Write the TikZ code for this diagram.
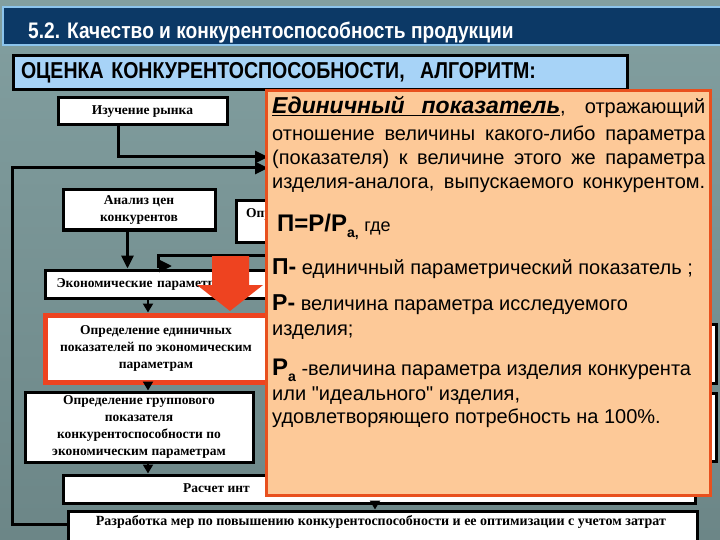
\documentclass[tikz,border=0pt]{standalone}
\usepackage{fontspec}
\setmainfont{Liberation Serif}
\setsansfont{Liberation Sans}
\newfontfamily\narrowsans[FakeStretch=0.85]{Liberation Sans}
\newfontfamily\notefont{Liberation Sans}
\usetikzlibrary{arrows.meta,calc}
\definecolor{titlenavy}{HTML}{0C3966}
\definecolor{titleedge}{HTML}{8CC4EC}
\definecolor{headfill}{HTML}{A7D3F7}
\definecolor{notefill}{HTML}{FDC998}
\definecolor{noteedge}{HTML}{E8501E}
\definecolor{redline}{HTML}{EE4320}
\definecolor{bgtop}{HTML}{829FA0}
\definecolor{bgmid}{HTML}{C4E3E5}
\definecolor{bgbot}{HTML}{6C8687}
\tikzset{
  stepbox/.style={draw=black, line width=3pt, fill=white, anchor=north west,
    align=center, inner sep=2pt, font=\bfseries\fontsize{13.5}{17}\selectfont},
  redstep/.style={stepbox, draw=redline, line width=5pt},
  headbox/.style={draw=black, line width=3pt, fill=headfill, anchor=north west,
    text width=598pt, inner xsep=8pt, minimum height=34pt, align=left,
    font=\narrowsans\bfseries\fontsize{23}{26}\selectfont},
  notebox/.style={draw=noteedge, line width=3pt, fill=notefill, anchor=north west},
  notetext/.style={anchor=base west, inner sep=0pt, font=\notefont\fontsize{20}{24}\selectfont},
  flow/.style={line width=3pt, -{Triangle[length=13pt,width=12pt]}},
  smallflow/.style={line width=2pt, -{Triangle[length=9pt,width=10pt]}}
}
\begin{document}
\begin{tikzpicture}[x=1pt,y=-1pt]
  \useasboundingbox (0,0) rectangle (720,540);
  % background
  \shade[top color=bgtop, middle color=bgmid, bottom color=bgbot] (0,0) rectangle (720,540);

  % title bar
  \draw[draw=titleedge, fill=titlenavy, line width=2pt] (3,7) rectangle (724,45);
  \node[anchor=base west, inner sep=0pt, text=white, font=\narrowsans\bfseries\fontsize{22.5}{26}\selectfont]
    (title) at (28,39) {5.2. Качество и конкурентоспособность продукции};

  % header
  \node[headbox] (head) at (11.5,54.5) {ОЦЕНКА КОНКУРЕНТОСПОСОБНОСТИ,\ \ АЛГОРИТМ:};

  % steps
  \node[stepbox, minimum width=169pt, minimum height=27pt] (market) at (56.5,96.5) {Изучение рынка};
  \node[stepbox, minimum width=152pt, minimum height=40pt] (prices) at (61.5,188.5) {Анализ цен\\конкурентов};
  \node[stepbox, minimum width=120pt, minimum height=41pt, align=left, text width=100pt, inner xsep=4pt]
    (techdef) at (234.5,199.5) {Опр\\\mbox{}};
  \node[stepbox, minimum height=28pt, align=left, text width=227pt, inner xsep=11.5pt]
    (econ) at (43.5,268.5) {Экономические параметры};
  \node[redstep, minimum width=222pt, minimum height=67pt] (unitind) at (42.5,312.5)
    {Определение единичных\\показателей по экономическим\\параметрам};
  \node[stepbox, minimum width=228pt, minimum height=70pt] (groupind) at (23.5,390.5)
    {Определение группового\\показателя\\конкурентоспособности по\\экономическим параметрам};
  \node[stepbox, minimum width=127pt, minimum height=59pt] (rightA) at (588,322.5) {};
  \node[stepbox, minimum width=127pt, minimum height=68pt] (rightB) at (588,391.5) {};
  \node[stepbox, minimum width=632pt, minimum height=28pt] (integral) at (61.5,473.5) {};
  \node[anchor=west, inner sep=0pt, font=\bfseries\fontsize{13.5}{17}\selectfont] (intlabel) at (183,488) {Расчет инт};
  \node[stepbox, minimum width=629pt, minimum height=40pt] (measures) at (66.5,509.5) {};
  \node[inner sep=0pt, font=\bfseries\fontsize{14}{17}\selectfont] (measlabel) at (381,522)
    {Разработка мер по повышению конкурентоспособности и ее оптимизации с учетом затрат};

  % connectors
  \coordinate (axis) at (148,0);
  \coordinate (axisb) at (375,0);
  \coordinate (marketin) at (268,157);
  \coordinate (loopin) at (268,168);
  \coordinate (loopbot) at (12,524);
  \coordinate (techout) at (268,255);
  \draw[flow] ([xshift=-24pt]market.south) |- (marketin);
  \draw[flow] (loopbot -| measures.west) -- (loopbot) |- (loopin);
  \draw[flow] ([xshift=-11.5pt]prices.south) -- ([xshift=-11.5pt]prices.south |- econ.north);
  \draw[flow] (techout) -| (158,266) -- (172,266);
  \draw[smallflow] (econ.south -| axis) -- (unitind.north -| axis);
  \draw[smallflow] (unitind.south -| axis) -- (groupind.north -| axis);
  \draw[smallflow] (groupind.south -| axis) -- (integral.north -| axis);
  \draw[smallflow] (integral.south -| axisb) -- (measures.north -| axisb);

  % big red arrow
  \fill[redline] (212,256) -- (249,256) -- (249,285) -- (263,285) -- (230,311)
    -- (197,285) -- (212,285) -- cycle;

  % definition box on top
  \node[notebox, minimum width=444pt, minimum height=404pt] (note) at (264.5,89.5) {};
  \node[notetext] (defA) at (272,114) {\makebox[433pt][s]{\underline{\bfseries\itshape\fontsize{23}{26}\selectfont\makebox[288pt][s]{Единичный показатель}}, отражающий}};
  \node[notetext] (defB) at (272,141) {\makebox[433pt][s]{отношение величины какого-либо параметра}};
  \node[notetext] (defC) at (272,165) {\makebox[433pt][s]{(показателя) к величине этого же параметра}};
  \node[notetext] (defD) at (272,189) {\makebox[433pt][s]{изделия-аналога, выпускаемого конкурентом.}};
  \node[notetext] (formula) at (277,231) {{\bfseries\fontsize{24}{28}\selectfont П=Р/Р}\raisebox{-6pt}{\bfseries\fontsize{14}{16}\selectfont а,} {\fontsize{18}{22}\selectfont где}};
  \node[notetext] (legP) at (272,274) {{\bfseries\fontsize{23}{26}\selectfont П-} единичный параметрический показатель ;};
  \node[notetext] (legR) at (272,310) {{\bfseries\fontsize{23}{26}\selectfont Р-} величина параметра исследуемого};
  \node[notetext] (legRb) at (272,335) {изделия;};
  \node[notetext] (legRa) at (272,375) {{\bfseries\fontsize{24}{28}\selectfont Р}\raisebox{-6pt}{\bfseries\fontsize{14}{16}\selectfont а} -величина параметра изделия конкурента};
  \node[notetext] (legRb2) at (272,400) {или "идеального" изделия,};
  \node[notetext] (legRb3) at (272,423) {удовлетворяющего потребность на 100\%.};
\end{tikzpicture}
\end{document}
